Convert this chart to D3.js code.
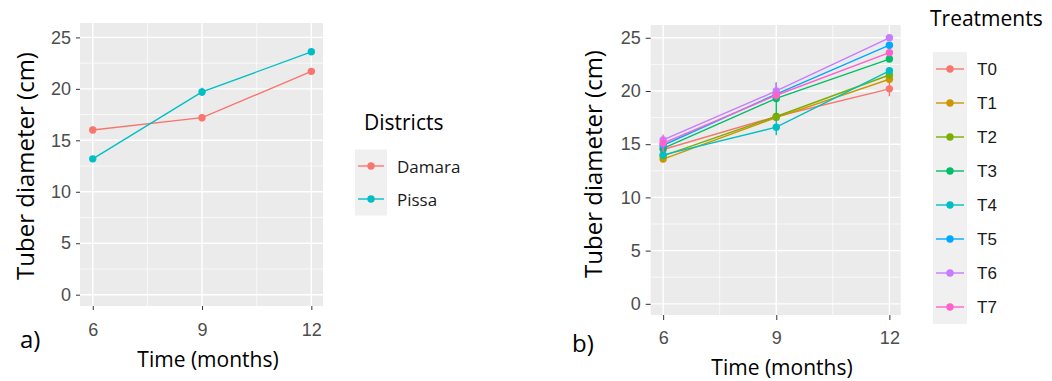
<!DOCTYPE html>
<html lang="en">
<head>
  <meta charset="UTF-8">
  <title>Tuber diameter over time</title>
  <style>
    body { margin: 0; background: #fff; }
    svg { display: block; }
    .tick text { font-family: "Liberation Sans", Arial, sans-serif; fill: #4d4d4d; }
    .tick line { stroke: #333; }
    .title { font-family: "Open Sans", "Noto Sans", sans-serif; fill: #000; }
  </style>
  <script src="https://d3js.org/d3.v7.min.js"></script>
</head>
<body>
  <svg id="chart" width="1052" height="381"></svg>
  <script>
    // x positions and y ticks shared by both panels
    const months = [6, 9, 12];
    const yTicks = [0, 5, 10, 15, 20, 25];

    // panel a) districts
    const districts = ["Damara", "Pissa"];
    const districtColors = ["#F8766D", "#00BFC4"];
    const damaraMean = [16.0, 17.2, 21.7];
    const damaraErr = [0.2, 0.35, 0.2];
    const pissaMean = [13.2, 19.7, 23.6];
    const pissaErr = [0.2, 0.4, 0.15];

    // panel b) treatments
    const treatments = ["T0", "T1", "T2", "T3", "T4", "T5", "T6", "T7"];
    const treatmentColors = ["#F8766D", "#CD9600", "#7CAE00", "#00BE67", "#00BFC4", "#00A9FF", "#C77CFF", "#FF61CC"];
    const t0Mean = [14.5, 17.6, 20.2], t0Err = [0.3, 0.3, 0.7];
    const t1Mean = [13.6, 17.5, 21.1], t1Err = [0.3, 0.3, 0.3];
    const t2Mean = [13.9, 17.6, 21.5], t2Err = [0.3, 0.3, 0.3];
    const t3Mean = [14.6, 19.3, 23.0], t3Err = [0.3, 1.5, 0.3];
    const t4Mean = [14.0, 16.6, 21.9], t4Err = [0.4, 0.75, 0.3];
    const t5Mean = [14.9, 19.7, 24.3], t5Err = [0.3, 0.4, 0.3];
    const t6Mean = [15.4, 20.0, 25.0], t6Err = [0.3, 0.8, 0.2];
    const t7Mean = [15.1, 19.6, 23.6], t7Err = [0.8, 0.4, 0.3];

    const svg = d3.select("#chart");

    const seriesA = districts.map((name, i) => ({
      name, color: districtColors[i],
      mean: [damaraMean, pissaMean][i], err: [damaraErr, pissaErr][i]
    }));
    const meansB = [t0Mean, t1Mean, t2Mean, t3Mean, t4Mean, t5Mean, t6Mean, t7Mean];
    const errsB = [t0Err, t1Err, t2Err, t3Err, t4Err, t5Err, t6Err, t7Err];
    const seriesB = treatments.map((name, i) => ({
      name, color: treatmentColors[i], mean: meansB[i], err: errsB[i]
    }));

    function panel(cfg) {
      const x = d3.scaleLinear().domain(cfg.xDomain).range(cfg.xRange);
      const y = d3.scaleLinear().domain(cfg.yDomain).range(cfg.yRange);
      const g = svg.append("g");

      g.append("rect")
        .attr("x", cfg.xRange[0]).attr("y", cfg.yRange[1])
        .attr("width", cfg.xRange[1] - cfg.xRange[0])
        .attr("height", cfg.yRange[0] - cfg.yRange[1])
        .attr("fill", "#EBEBEB");

      // minor grid
      const minorY = yTicks.slice(0, -1).map(d => d + 2.5);
      const minorX = months.slice(0, -1).map(d => d + 1.5);
      g.selectAll(".minor-y").data(minorY).enter().append("line")
        .attr("x1", cfg.xRange[0]).attr("x2", cfg.xRange[1])
        .attr("y1", d => y(d)).attr("y2", d => y(d))
        .attr("stroke", "#fff").attr("stroke-width", 0.7);
      g.selectAll(".minor-x").data(minorX).enter().append("line")
        .attr("y1", cfg.yRange[0]).attr("y2", cfg.yRange[1])
        .attr("x1", d => x(d)).attr("x2", d => x(d))
        .attr("stroke", "#fff").attr("stroke-width", 0.7);
      // major grid
      g.selectAll(".major-y").data(yTicks).enter().append("line")
        .attr("x1", cfg.xRange[0]).attr("x2", cfg.xRange[1])
        .attr("y1", d => y(d)).attr("y2", d => y(d))
        .attr("stroke", "#fff").attr("stroke-width", 1.4);
      g.selectAll(".major-x").data(months).enter().append("line")
        .attr("y1", cfg.yRange[0]).attr("y2", cfg.yRange[1])
        .attr("x1", d => x(d)).attr("x2", d => x(d))
        .attr("stroke", "#fff").attr("stroke-width", 1.4);

      // axes
      const ya = g.append("g")
        .attr("transform", `translate(${cfg.xRange[0]},0)`)
        .call(d3.axisLeft(y).tickValues(yTicks).tickFormat(d3.format("d"))
          .tickSize(cfg.tickLen).tickPadding(cfg.yPad));
      const xa = g.append("g")
        .attr("transform", `translate(0,${cfg.yRange[0]})`)
        .call(d3.axisBottom(x).tickValues(months).tickFormat(d3.format("d"))
          .tickSize(cfg.tickLen).tickPadding(cfg.xPad));
      [ya, xa].forEach(a => {
        a.select(".domain").remove();
        a.selectAll("text").attr("font-size", cfg.tickFont);
      });

      const line = d3.line().x((d, i) => x(months[i])).y(d => y(d));
      cfg.series.forEach(s => {
        const sg = g.append("g");
        sg.selectAll(".err").data(s.mean).enter().append("line")
          .attr("x1", (d, i) => x(months[i])).attr("x2", (d, i) => x(months[i]))
          .attr("y1", (d, i) => y(d - s.err[i])).attr("y2", (d, i) => y(d + s.err[i]))
          .attr("stroke", s.color).attr("stroke-width", 1.4);
        sg.append("path").datum(s.mean)
          .attr("d", line).attr("fill", "none")
          .attr("stroke", s.color).attr("stroke-width", 1.4);
        sg.selectAll("circle").data(s.mean).enter().append("circle")
          .attr("cx", (d, i) => x(months[i])).attr("cy", d => y(d))
          .attr("r", 3.7).attr("fill", s.color);
      });

      // titles
      g.append("text").attr("class", "title")
        .attr("transform", `translate(${cfg.yTitleX},${cfg.yTitleY}) rotate(-90)`)
        .attr("text-anchor", "middle").attr("dominant-baseline", "central")
        .attr("font-size", 24).text("Tuber diameter (cm)");
      g.append("text").attr("class", "title")
        .attr("x", cfg.xTitleX).attr("y", cfg.xTitleY)
        .attr("text-anchor", "middle").attr("font-size", 21).text("Time (months)");
      g.append("text").attr("class", "title")
        .attr("x", cfg.tagX).attr("y", cfg.tagY)
        .attr("font-size", 24).text(cfg.tag);

      // legend
      const lg = g.append("g");
      lg.append("text").attr("class", "title")
        .attr("x", cfg.legX).attr("y", cfg.legTitleY)
        .attr("font-size", 21).text(cfg.legTitle);
      const n = cfg.series.length;
      lg.append("rect")
        .attr("x", cfg.keyX).attr("y", cfg.keyY0 - cfg.keyStep / 2)
        .attr("width", cfg.keyW).attr("height", n * cfg.keyStep)
        .attr("fill", "#F0F0F0");
      cfg.series.forEach((s, i) => {
        const cy = cfg.keyY0 + i * cfg.keyStep;
        lg.append("line")
          .attr("x1", cfg.keyX + 3).attr("x2", cfg.keyX + cfg.keyW - 3)
          .attr("y1", cy).attr("y2", cy)
          .attr("stroke", s.color).attr("stroke-width", 1.4);
        lg.append("circle").attr("cx", cfg.keyX + cfg.keyW / 2).attr("cy", cy)
          .attr("r", 3.7).attr("fill", s.color);
        lg.append("text")
          .attr("x", cfg.keyX + cfg.keyW + 10).attr("y", cy)
          .attr("dominant-baseline", "central")
          .attr("font-family", cfg.labelFont).attr("font-size", cfg.labelSize)
          .attr("fill", "#1a1a1a").text(s.name);
      });
    }

    panel({
      series: seriesA,
      xDomain: [5.65, 12.32], xRange: [80, 323],
      yDomain: [-1.1, 26.4], yRange: [306, 23],
      tickLen: 4, yPad: 5, xPad: 13, tickFont: 18,
      yTitleX: 24, yTitleY: 166, xTitleX: 208, xTitleY: 367, tag: "a)", tagX: 20, tagY: 348,
      legTitle: "Districts", legX: 364, legTitleY: 130,
      keyX: 355, keyY0: 166, keyStep: 33, keyW: 32,
      labelFont: "'Open Sans', sans-serif", labelSize: 17
    });

    panel({
      series: seriesB,
      xDomain: [5.67, 12.3], xRange: [650.7, 900.7],
      yDomain: [-1.05, 26.2], yRange: [315, 25],
      tickLen: 5, yPad: 5, xPad: 11, tickFont: 18,
      yTitleX: 592, yTitleY: 164, xTitleX: 782, xTitleY: 375, tag: "b)", tagX: 572, tagY: 352,
      legTitle: "Treatments", legX: 930, legTitleY: 26,
      keyX: 933, keyY0: 69, keyStep: 34, keyW: 34,
      labelFont: "'Liberation Sans', Arial, sans-serif", labelSize: 17
    });
  </script>
</body>
</html>
